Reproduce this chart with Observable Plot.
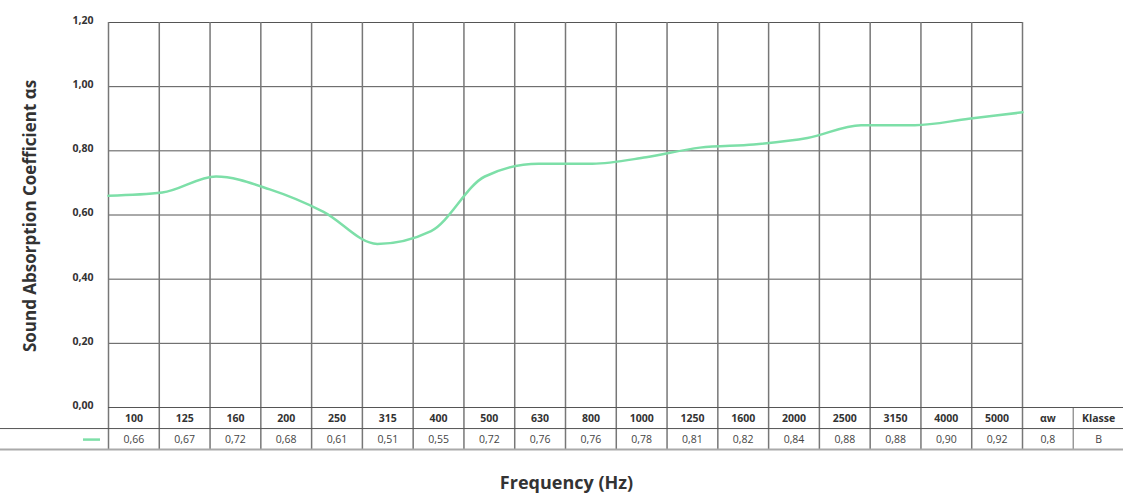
<!DOCTYPE html>
<html>
<head>
<meta charset="utf-8">
<script src="https://cdn.jsdelivr.net/npm/d3@7"></script>
<script src="https://cdn.jsdelivr.net/npm/@observablehq/plot@0.6"></script>
<style>
  html, body { margin: 0; padding: 0; background: #fff; }
  #chart svg { display: block; }
</style>
</head>
<body>
<div id="chart"></div>
<script>
const frequencies = ["100","125","160","200","250","315","400","500","630","800","1000","1250","1600","2000","2500","3150","4000","5000"];
const absorption = [0.66,0.67,0.72,0.68,0.61,0.51,0.55,0.72,0.76,0.76,0.78,0.81,0.82,0.84,0.88,0.88,0.90,0.92];
const extraHeaders = ["αw", "Klasse"];
const extraValues = ["0,8", "B"];
const yTicks = [0, 0.2, 0.4, 0.6, 0.8, 1.0, 1.2];
const yTitle = "Sound Absorption Coefficient αs";
const xTitle = "Frequency (Hz)";

const fmt = v => v.toFixed(2).replace(".", ",");
const n = frequencies.length;
const lineData = absorption.map((v, i) => ({x: i * n / (n - 1), y: v}));
const headerCells = frequencies.map((f, i) => ({x: i + 0.5, t: f}))
  .concat(extraHeaders.map((h, j) => ({x: n + j + 0.5, t: h})));
const valueCells = absorption.map((v, i) => ({x: i + 0.5, t: fmt(v)}))
  .concat(extraValues.map((h, j) => ({x: n + j + 0.5, t: h})));
const colBounds = d3.range(0, n + 1);
const font = "'Open Sans', Lato, sans-serif";
const green = "#7ddfa8";
const px = 914 / n; // pixels per column unit

const chart = Plot.plot({
  width: 1123,
  height: 493,
  marginTop: 22,
  marginBottom: 86,
  marginLeft: 108,
  marginRight: 101,
  style: {fontFamily: font, background: "#fff", overflow: "visible"},
  x: {domain: [0, n], axis: null},
  y: {domain: [0, 1.2], axis: null},
  marks: [
    Plot.ruleY(yTicks.filter(t => t > 0), {x1: 0, x2: n, stroke: "#555", strokeWidth: 1}),
    Plot.ruleX(colBounds, {y1: 1.2, y2: -42 / 320, stroke: "#777", strokeWidth: 1.5}),
    Plot.ruleX([n + 1], {y1: 0, y2: -42 / 320, stroke: "#999", strokeWidth: 1.5}),
    Plot.ruleY([0], {x1: 0, x2: n + 2, stroke: "#555", strokeWidth: 1}),
    Plot.ruleY([-21 / 320], {x1: -108 / px, x2: n + 2, stroke: "#555", strokeWidth: 1}),
    Plot.ruleY([-42 / 320], {x1: -108 / px, x2: n + 2, stroke: "#aaa", strokeWidth: 2}),
    Plot.text(yTicks, {x: 0, y: d => d, text: d => fmt(d), dx: -15, dy: -2, textAnchor: "end", fontSize: 10.5, fontWeight: "bold", fill: "#333"}),
    Plot.line(lineData, {x: "x", y: "y", stroke: green, strokeWidth: 2.5, curve: "monotone-x"}),
    Plot.text(headerCells, {x: "x", y: -11 / 320, text: "t", fontSize: 10.5, fontWeight: "bold", fill: "#333"}),
    Plot.text(valueCells, {x: "x", y: -32 / 320, text: "t", fontSize: 10.5, fill: "#444"}),
    Plot.ruleY([-32 / 320], {x1: -25 / px, x2: -8 / px, stroke: green, strokeWidth: 2.5}),
    Plot.text([yTitle], {x: -78 / px, y: 0.597, text: d => d, rotate: -90, fontSize: 17, fontWeight: "bold", fill: "#333"}),
    Plot.text([xTitle], {x: 458 / px, y: -76 / 320, text: d => d, fontSize: 18, fontWeight: "bold", fill: "#333"})
  ]
});
document.getElementById("chart").appendChild(chart);
</script>
</body>
</html>
